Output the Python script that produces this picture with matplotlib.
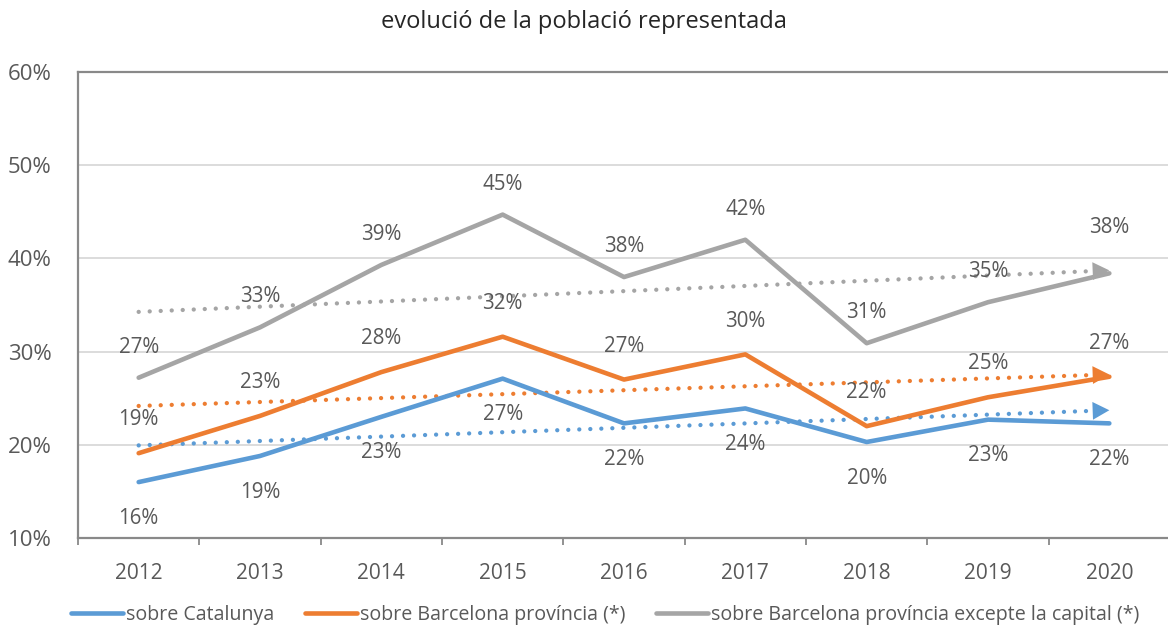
import matplotlib
matplotlib.use("Agg")
import matplotlib.pyplot as plt
import numpy as np

years = ["2012", "2013", "2014", "2015", "2016", "2017", "2018", "2019", "2020"]
catalunya = [16.0, 18.8, 23.0, 27.1, 22.3, 23.9, 20.3, 22.7, 22.3]
bcn_prov = [19.1, 23.1, 27.8, 31.6, 27.0, 29.7, 22.0, 25.1, 27.3]
bcn_sense_capital = [27.2, 32.6, 39.3, 44.7, 38.0, 42.0, 30.9, 35.3, 38.4]
series_names = ["sobre Catalunya", "sobre Barcelona província (*)",
                "sobre Barcelona província excepte la capital (*)"]
yticks = [10, 20, 30, 40, 50, 60]

plt.rcParams['font.family'] = ['Open Sans', 'DejaVu Sans']

colors = ["#5B9BD5", "#ED7D31", "#A5A5A5"]
txt = "#595959"

fig = plt.figure(figsize=(11.68, 6.30), dpi=100)
ax = fig.add_axes([78/1168, 92/630, 1092/1168, 466/630])

x = np.arange(len(years))
all_series = [catalunya, bcn_prov, bcn_sense_capital]
label_offsets = [[-26]*9, [24]*9, [22]*8 + [33]]

for vals, c, name, offs in zip(all_series, colors, series_names, label_offsets):
    vals = np.array(vals)
    ax.plot(x, vals, color=c, lw=3.3, solid_capstyle='round', solid_joinstyle='round',
            label=name, zorder=4)
    # linear trendline
    k, b = np.polyfit(x, vals, 1)
    xe = x[-1] - 0.13
    ax.plot([x[0], xe], [k*x[0] + b, k*xe + b], color=c, lw=3.1,
            linestyle=(0, (0.01, 2.55)), dash_capstyle='round', zorder=3)
    ax.annotate('', xy=(x[-1], k*x[-1] + b), xytext=(xe, k*xe + b),
                arrowprops=dict(arrowstyle='-|>,head_length=0.6,head_width=0.32',
                                color=c, lw=0, shrinkA=0, shrinkB=0,
                                mutation_scale=20), zorder=3)
    for xi, v, o in zip(x, vals, offs):
        ax.annotate(f"{v:.0f}%", (xi, v), xytext=(0, o), textcoords='offset points',
                    ha='center', va='center', fontsize=14.8, color=txt, zorder=5)

ax.set_xlim(-0.5, len(years) - 0.5)
ax.set_ylim(10, 60)
ax.set_yticks(yticks)
ax.set_yticklabels([f"{t}%" for t in yticks])
ax.set_xticks(x)
ax.set_xticklabels(years)
ax.set_xticks(np.arange(-0.5, len(years)), minor=True)
ax.tick_params(axis='x', which='major', length=0, pad=18, labelsize=15, labelcolor=txt)
ax.tick_params(axis='x', which='minor', length=5, width=1.3, color='#898989')
ax.tick_params(axis='y', length=0, pad=19, labelsize=16, labelcolor=txt)
ax.grid(axis='y', color='#D9D9D9', lw=1.3, zorder=0)
ax.set_axisbelow(True)
for s in ax.spines.values():
    s.set_color('#898989')
    s.set_linewidth(1.6)

fig.suptitle("evolució de la població representada", y=1 - 22/630, va='center',
             fontsize=17, color='#262626')

fig.legend(loc='center', bbox_to_anchor=(0.518, 1 - 615/630), ncol=3, frameon=False,
           fontsize=14.1, labelcolor=txt, handlelength=2.65, handletextpad=0.15,
           columnspacing=1.58)

fig.savefig("out.png", dpi=100)
